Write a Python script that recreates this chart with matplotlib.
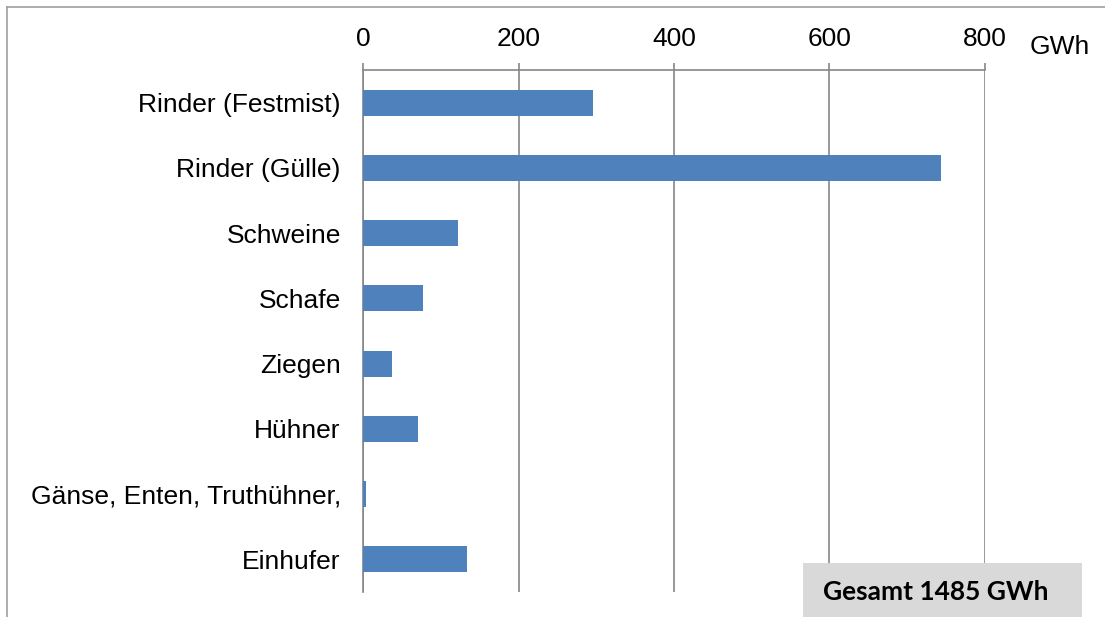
import matplotlib.pyplot as plt
from matplotlib.lines import Line2D
from matplotlib.patches import Rectangle

categories = ['Rinder (Festmist)', 'Rinder (Gülle)', 'Schweine', 'Schafe',
              'Ziegen', 'Hühner', 'Gänse, Enten, Truthühner,', 'Einhufer']
energie_gwh = [296, 743, 122, 77, 37, 71, 4, 134]
xticks = [0, 200, 400, 600, 800]
gesamt = 1485

plt.rcParams['font.family'] = ['Liberation Sans', 'DejaVu Sans']

fig = plt.figure(figsize=(11.05, 6.17), dpi=100)
ax = fig.add_axes([363 / 1105, 1 - 592 / 617, 622 / 1105, 522 / 617])

ypos = list(range(len(categories)))
ax.barh(ypos, energie_gwh, height=0.4, color='#4F81BD', zorder=3)
ax.set_ylim(len(categories) - 0.5, -0.5)
ax.set_xlim(0, 800)

ax.set_yticks(ypos)
ax.set_yticklabels(categories, fontsize=19)
ax.tick_params(axis='y', length=0, pad=16)

ax.xaxis.tick_top()
ax.set_xticks(xticks)
ax.set_xticklabels([str(t) for t in xticks], fontsize=19)
ax.tick_params(axis='x', length=5, width=1.2, color='#868686', pad=9, direction='out')
ax.grid(axis='x', color='#868686', linewidth=1.2, zorder=1)

for side in ['right', 'bottom']:
    ax.spines[side].set_visible(False)
for side in ['top', 'left']:
    ax.spines[side].set_color('#868686')
    ax.spines[side].set_linewidth(1.2)

# unit label right of the last tick
fig.text(1060 / 1105, 1 - 47 / 617, 'GWh', fontsize=19, ha='center', va='center')

# total box in the lower right corner
fig.add_artist(Rectangle((803 / 1105, 0), 279 / 1105, 54 / 617,
                         transform=fig.transFigure, facecolor='#D9D9D9',
                         edgecolor='none', zorder=5))
fig.text(936 / 1105, 1 - 592 / 617, f'Gesamt {gesamt} GWh', family='Lato',
         fontweight='bold', fontsize=19, ha='center', va='center', zorder=6)

# outer frame, only top and left edges are inside the image
fig.add_artist(Line2D([7 / 1105, 1], [1 - 7 / 617, 1 - 7 / 617],
                      color='#A0A0A0', linewidth=1.2, transform=fig.transFigure))
fig.add_artist(Line2D([7 / 1105, 7 / 1105], [0, 1 - 7 / 617],
                      color='#A0A0A0', linewidth=1.2, transform=fig.transFigure))

fig.savefig('out.png', dpi=100)
